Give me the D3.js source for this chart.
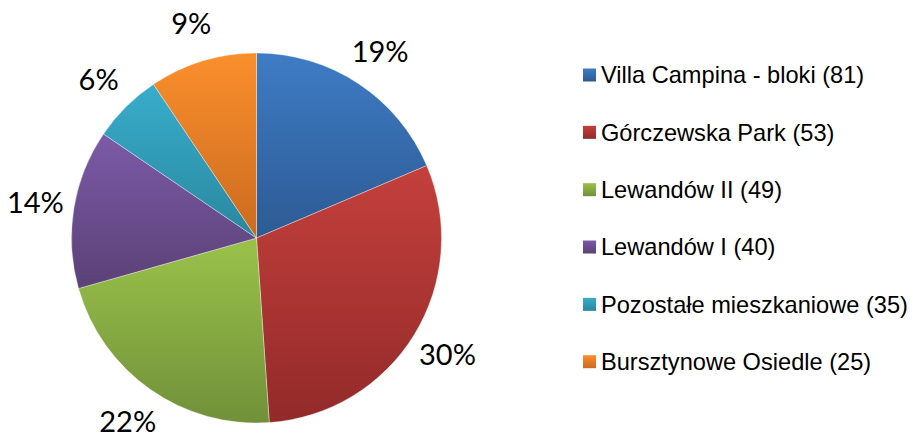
<!DOCTYPE html>
<html>
<head>
<meta charset="utf-8">
<script src="https://cdn.jsdelivr.net/npm/d3@7"></script>
<style>
  body { margin: 0; background: #fff; }
  svg { display: block; }
</style>
</head>
<body>
<div id="main_plot"></div>
<script>
// data (share of each slice, in %)
var categories = ["Villa Campina - bloki (81)", "Górczewska Park (53)", "Lewandów II (49)",
                  "Lewandów I (40)", "Pozostałe mieszkaniowe (35)", "Bursztynowe Osiedle (25)"];
var shares = [18.6, 30.3, 21.7, 13.9, 6.1, 9.4];
var shareLabels = ["19%", "30%", "22%", "14%", "6%", "9%"];

// light (top) and dark (bottom) colour of each slice
var topColors = ["#3e7cc5", "#c4403c", "#9ac24a", "#7c5aa8", "#38adcb", "#fa8f2c"];
var bottomColors = ["#2d5a93", "#922a2a", "#71903a", "#5a4175", "#2a879f", "#cb6a20"];

// set the dimensions
var width = 915,
    height = 434;

var svg = d3.select("div#main_plot")
  .append("svg")
    .attr("width", width)
    .attr("height", height);

// pie geometry
var cx = 256.5, cy = 238, radius = 185, labelRadius = 224;

// one vertical gradient per slice
var defs = svg.append("defs");
categories.forEach(function(c, i) {
  var g = defs.append("linearGradient")
    .attr("id", "grad" + i)
    .attr("x1", 0).attr("y1", 0)
    .attr("x2", 0).attr("y2", 1);
  g.append("stop").attr("offset", "0%").attr("stop-color", topColors[i]);
  g.append("stop").attr("offset", "100%").attr("stop-color", bottomColors[i]);
});

var pie = d3.pie()
  .sort(null)
  .value(function(d) { return d; });

var arcs = pie(shares);

var arc = d3.arc()
  .innerRadius(0)
  .outerRadius(radius);

var labelArc = d3.arc()
  .innerRadius(labelRadius)
  .outerRadius(labelRadius);

var chart = svg.append("g")
  .attr("transform", "translate(" + cx + "," + cy + ")");

// slices
chart.selectAll("path.slice")
  .data(arcs)
  .enter()
  .append("path")
    .attr("class", "slice")
    .attr("d", arc)
    .attr("fill", function(d, i) { return "url(#grad" + i + ")"; })
    .attr("stroke", "#ffffff")
    .attr("stroke-opacity", 0.6)
    .attr("stroke-width", 0.6);

// percentage labels
chart.selectAll("text.pct")
  .data(arcs)
  .enter()
  .append("text")
    .attr("class", "pct")
    .attr("transform", function(d) { return "translate(" + labelArc.centroid(d) + ")"; })
    .attr("dy", "0.36em")
    .attr("text-anchor", "middle")
    .attr("font-family", "Lato, 'Open Sans', sans-serif")
    .attr("font-size", 29)
    .attr("fill", "#000")
    .text(function(d, i) { return shareLabels[i]; });

// legend
var legendY = d3.scalePoint()
  .domain(categories)
  .range([75, 361.7]);

var legend = svg.append("g")
  .selectAll("g")
  .data(categories)
  .enter()
  .append("g")
    .attr("transform", function(d) { return "translate(583," + legendY(d) + ")"; });

legend.append("rect")
  .attr("x", 0)
  .attr("y", -6.5)
  .attr("width", 13)
  .attr("height", 13)
  .attr("fill", function(d, i) { return "url(#grad" + i + ")"; });

legend.append("text")
  .attr("x", 18)
  .attr("y", 8.4)
  .attr("font-family", "'Liberation Sans', Arial, sans-serif")
  .attr("font-size", 23.6)
  .attr("fill", "#000")
  .text(function(d) { return d; });
</script>
</body>
</html>
